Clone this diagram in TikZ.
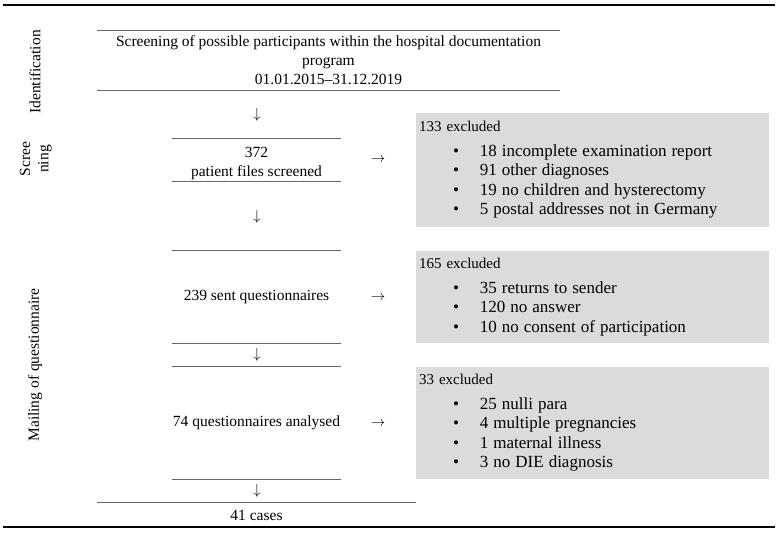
\documentclass[tikz,border=0pt]{standalone}
\usepackage{fontspec}
\setmainfont{Liberation Serif}

% bullet row inside the exclusion boxes
\newcommand{\bitem}{\fontsize{17}{19.5}\selectfont\hspace*{34pt}\textbullet\hspace{21pt}}

\begin{document}
\begin{tikzpicture}[x=1pt, y=-1pt, font=\fontsize{15.5}{19}\selectfont,
  flow/.style={align=center, inner sep=0pt},
  rule/.style={draw=black!60, line width=0.9pt},
  border/.style={draw=black, line width=1.6pt},
  stage/.style={rotate=90, inner sep=0pt},
  excl/.style={fill=black!14, align=left, text width=347pt, inner xsep=3pt,
    minimum width=353pt, font=\fontsize{15}{19.5}\selectfont}]
  \useasboundingbox (0,0) rectangle (778,534);

  % table borders
  \coordinate (tl) at (3,5);
  \coordinate (tr) at (775,5);
  \coordinate (bl) at (3,527);
  \coordinate (br) at (775,527);
  \draw[border] (tl) -- (tr);
  \draw[border] (bl) -- (br);

  % stage labels
  \node[stage] (idlab) at (35,72) {Identification};
  \node[stage] (scrA) at (25,159) {Scree};
  \node[stage] (scrB) at (45,159) {ning};
  \node[stage] (maillab) at (35,365) {Mailing of questionnaire};

  % main flow
  \node[flow, minimum width=463, minimum height=60] (ident) at (328.5,60.5)
    {Screening of possible participants within the hospital documentation\\
     program\\ 01.01.2015--31.12.2019};
  \node[flow, minimum width=169, minimum height=42] (screen) at (256.5,160)
    {\rule{0pt}{17pt}372\\ patient files screened};
  \node[flow, minimum width=169, minimum height=92] (sent) at (256.5,297)
    {239 sent questionnaires};
  \node[flow, minimum width=169, minimum height=112] (anal) at (256.5,423)
    {74 questionnaires analysed};
  \node[flow, minimum width=319, minimum height=24] (cases) at (256.5,515)
    {41 cases};

  \foreach \n in {ident, screen, sent, anal} {
    \draw[rule] (\n.north west) -- (\n.north east);
    \draw[rule] (\n.south west) -- (\n.south east);
  }
  \draw[rule] (cases.north west) -- (cases.north east);

  % arrows
  \node (d1) at (257,115) {$\downarrow$};
  \node (d2) at (257,217) {$\downarrow$};
  \node (d3) at (257,355) {$\downarrow$};
  \node (d4) at (257,491) {$\downarrow$};
  \node (r1) at (378,160) {$\rightarrow$};
  \node (r2) at (378,298) {$\rightarrow$};
  \node (r3) at (378,424) {$\rightarrow$};

  % exclusions
  \node[excl, minimum height=114] (ex1) at (592.5,170)
    {133 excluded\\[5pt]
     \bitem 18 incomplete examination report\\
     \bitem 91 other diagnoses\\
     \bitem 19 no children and hysterectomy\\
     \bitem 5 postal addresses not in Germany};
  \node[excl, minimum height=92] (ex2) at (592.5,297)
    {165 excluded\\[5pt]
     \bitem 35 returns to sender\\
     \bitem 120 no answer\\
     \bitem 10 no consent of participation};
  \node[excl, minimum height=112] (ex3) at (592.5,423)
    {33 excluded\\[5pt]
     \bitem 25 nulli para\\
     \bitem 4 multiple pregnancies\\
     \bitem 1 maternal illness\\
     \bitem 3 no DIE diagnosis};
\end{tikzpicture}
\end{document}
